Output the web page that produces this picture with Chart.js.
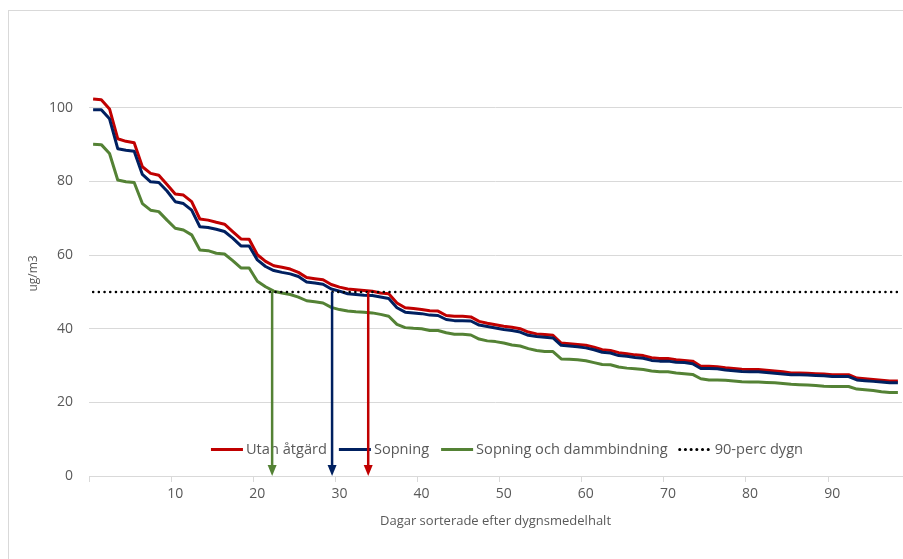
<!DOCTYPE html>
<html>
<head>
<meta charset="utf-8">
<script src="https://cdn.jsdelivr.net/npm/chart.js@4.4.1/dist/chart.umd.min.js"></script>
<style>
    html, body { margin: 0; padding: 0; background: #fff; overflow: hidden; }
    #wrap { position: relative; width: 903px; height: 559px; }
    #frame { position: absolute; left: 8px; top: 10px; width: 1000px; height: 1000px; border: 1px solid #d9d9d9; }
    canvas { position: absolute; left: 0; top: 0; }
</style>
</head>
<body>
<div id="wrap">
    <div id="frame"></div>
    <canvas id="durationChart" width="903" height="559"></canvas>
</div>
<script>
// days sorted by daily mean, 0..98
const days = Array.from({ length: 99 }, (_, i) => i);

const utanAtgard = [
    102.4, 102.2, 99.7, 91.6, 90.9, 90.5, 84.0, 82.2, 81.7, 79.2,
    76.6, 76.3, 74.5, 69.8, 69.5, 68.9, 68.4, 66.4, 64.4, 64.3,
    60.1, 58.3, 57.1, 56.7, 56.2, 55.3, 53.9, 53.6, 53.3, 52.0,
    51.3, 50.8, 50.6, 50.4, 50.2, 49.7, 49.5, 47.0, 45.7, 45.5,
    45.2, 44.9, 44.8, 43.6, 43.4, 43.4, 43.2, 42.0, 41.5, 41.1,
    40.7, 40.4, 40.0, 39.1, 38.6, 38.4, 38.2, 36.1, 35.9, 35.7,
    35.5, 35.0, 34.3, 34.1, 33.5, 33.2, 32.9, 32.7, 32.1, 31.9,
    31.9, 31.6, 31.4, 31.2, 29.8, 29.8, 29.7, 29.4, 29.2, 29.0,
    28.9, 28.9, 28.7, 28.5, 28.3, 28.0, 28.0, 27.9, 27.8, 27.7,
    27.5, 27.5, 27.5, 26.6, 26.4, 26.2, 26.0, 25.8, 25.8
];

const sopning = [
    99.5, 99.5, 97.0, 88.9, 88.5, 88.2, 81.9, 79.9, 79.7, 77.4,
    74.5, 74.0, 72.2, 67.7, 67.5, 67.0, 66.4, 64.6, 62.5, 62.5,
    58.7, 56.9, 55.8, 55.3, 54.9, 54.2, 52.7, 52.4, 52.1, 50.8,
    50.2, 49.5, 49.3, 49.1, 49.0, 48.6, 48.2, 45.7, 44.5, 44.3,
    44.1, 43.7, 43.6, 42.5, 42.2, 42.2, 42.1, 41.0, 40.6, 40.2,
    39.8, 39.5, 39.1, 38.2, 37.9, 37.7, 37.5, 35.5, 35.3, 35.1,
    34.8, 34.3, 33.6, 33.4, 32.7, 32.5, 32.2, 32.0, 31.4, 31.2,
    31.2, 30.9, 30.8, 30.5, 29.2, 29.2, 29.1, 28.8, 28.6, 28.4,
    28.3, 28.3, 28.1, 27.9, 27.7, 27.5, 27.5, 27.4, 27.3, 27.2,
    27.0, 27.0, 27.0, 26.1, 25.9, 25.7, 25.5, 25.3, 25.3
];

const sopningDamm = [
    90.1, 90.0, 87.6, 80.4, 79.9, 79.7, 74.0, 72.2, 71.8, 69.5,
    67.3, 66.8, 65.5, 61.4, 61.2, 60.5, 60.3, 58.5, 56.5, 56.5,
    52.9, 51.4, 50.2, 49.7, 49.3, 48.6, 47.6, 47.3, 47.0, 45.8,
    45.2, 44.8, 44.6, 44.5, 44.3, 43.9, 43.4, 41.2, 40.3, 40.1,
    40.0, 39.5, 39.5, 38.9, 38.5, 38.5, 38.3, 37.2, 36.7, 36.5,
    36.1, 35.6, 35.3, 34.6, 34.1, 33.8, 33.8, 31.8, 31.7, 31.6,
    31.3, 30.8, 30.3, 30.2, 29.6, 29.3, 29.1, 28.9, 28.5, 28.3,
    28.3, 28.0, 27.8, 27.6, 26.4, 26.1, 26.1, 26.0, 25.8, 25.6,
    25.5, 25.5, 25.4, 25.3, 25.1, 24.9, 24.8, 24.7, 24.6, 24.4,
    24.3, 24.3, 24.3, 23.6, 23.4, 23.2, 22.9, 22.7, 22.7
];

const perc90 = 50;
const perc90Line = days.map(() => perc90);

// where each series drops below the 90-percentile level (day position)
const arrowLabels = ['Utan åtgärd', 'Sopning', 'Sopning och dammbindning'];
const arrowDays = [33.5, 29.1, 21.8];

const yTicks = [0, 20, 40, 60, 80, 100];

const RED = '#c00000';
const NAVY = '#002060';
const GREEN = '#548235';
const TEXT = '#595959';
const FONT = "'Open Sans', sans-serif";

// legend drawn inside the plot area, just above the x axis
const insideLegend = {
    id: 'insideLegend',
    afterDatasetsDraw(chart) {
        const ctx = chart.ctx;
        const y = chart.scales.y.getPixelForValue(7.2);
        const items = chart.data.datasets.map(ds => ({
            text: ds.label, color: ds.borderColor, dash: ds.borderDash || []
        }));
        ctx.save();
        ctx.font = '14.6px ' + FONT;
        const sample = 32, gap = 3, spacing = 12;
        let total = 0;
        items.forEach(it => { it.w = ctx.measureText(it.text).width; total += sample + gap + it.w; });
        total += spacing * (items.length - 1);
        let x = 507 - total / 2;
        ctx.textBaseline = 'middle';
        items.forEach(it => {
            ctx.strokeStyle = it.color;
            ctx.lineWidth = 3;
            ctx.setLineDash(it.dash);
            ctx.lineCap = it.dash.length ? 'round' : 'butt';
            ctx.beginPath();
            ctx.moveTo(x, y);
            ctx.lineTo(x + sample, y);
            ctx.stroke();
            ctx.setLineDash([]);
            ctx.fillStyle = TEXT;
            ctx.fillText(it.text, x + sample + gap, y);
            x += sample + gap + it.w + spacing;
        });
        ctx.restore();
    }
};

// arrows from the 90-perc level down to the axis
const dropArrows = {
    id: 'dropArrows',
    afterDatasetsDraw(chart) {
        const ctx = chart.ctx;
        const xs = chart.scales.x, ys = chart.scales.y;
        const colors = [RED, NAVY, GREEN];
        ctx.save();
        arrowDays.forEach((d, i) => {
            const px = xs.getPixelForValue(d);
            const top = ys.getPixelForValue(perc90);
            const bottom = ys.getPixelForValue(0);
            ctx.strokeStyle = colors[i];
            ctx.fillStyle = colors[i];
            ctx.lineWidth = 2.5;
            ctx.beginPath();
            ctx.moveTo(px, top);
            ctx.lineTo(px, bottom - 9);
            ctx.stroke();
            ctx.beginPath();
            ctx.moveTo(px - 4.5, bottom - 11);
            ctx.lineTo(px + 4.5, bottom - 11);
            ctx.lineTo(px, bottom);
            ctx.closePath();
            ctx.fill();
        });
        ctx.restore();
    }
};

const ctx = document.getElementById('durationChart').getContext('2d');

const durationChart = new Chart(ctx, {
    type: 'line',
    data: {
        labels: days,
        datasets: [{
            label: 'Utan åtgärd',
            data: utanAtgard,
            borderColor: RED,
            order: 3
        }, {
            label: 'Sopning',
            data: sopning,
            borderColor: NAVY,
            order: 2
        }, {
            label: 'Sopning och dammbindning',
            data: sopningDamm,
            borderColor: GREEN,
            order: 1
        }, {
            label: '90-perc dygn',
            data: perc90Line,
            borderColor: '#000000',
            borderWidth: 2.5,
            borderDash: [0.1, 5.6],
            borderCapStyle: 'round',
            order: 0
        }]
    },
    options: {
        responsive: false,
        animation: false,
        devicePixelRatio: 1,
        layout: {
            padding: { left: 22, right: 1, top: 71, bottom: 0 }
        },
        elements: {
            point: { radius: 0 },
            line: { borderWidth: 3, tension: 0, borderJoinStyle: 'round' }
        },
        plugins: {
            legend: { display: false },
            tooltip: { enabled: false }
        },
        scales: {
            x: {
                type: 'category',
                offset: true,
                afterFit: scale => { scale.height = 83; },
                border: { display: true, color: '#d9d9d9', width: 1 },
                grid: {
                    offset: true,
                    drawOnChartArea: false,
                    tickLength: 6,
                    color: c => (c.index % 10 === 0 ? '#d9d9d9' : 'rgba(0,0,0,0)')
                },
                ticks: {
                    autoSkip: false,
                    maxRotation: 0,
                    padding: 4,
                    color: TEXT,
                    font: { family: FONT, size: 14 },
                    callback: (v, i) => (i > 0 && i % 10 === 0 ? String(days[i]) : '')
                },
                title: {
                    display: true,
                    text: 'Dagar sorterade efter dygnsmedelhalt',
                    color: TEXT,
                    font: { family: FONT, size: 13 },
                    padding: { top: 4, bottom: 30 }
                }
            },
            y: {
                min: 0,
                max: 110,
                afterFit: scale => { scale.width = 67; },
                afterBuildTicks: scale => {
                    scale.ticks = yTicks.map(v => ({ value: v }));
                },
                border: { display: false },
                grid: {
                    color: c => (c.tick && c.tick.value === 0 ? 'rgba(0,0,0,0)' : '#d9d9d9'),
                    drawTicks: false
                },
                ticks: {
                    padding: 16,
                    color: TEXT,
                    font: { family: FONT, size: 14 }
                },
                title: {
                    display: true,
                    text: 'ug/m3',
                    color: TEXT,
                    font: { family: FONT, size: 12 },
                    padding: { top: 4, bottom: 0 }
                }
            }
        }
    },
    plugins: [insideLegend, dropArrows]
});
</script>
</body>
</html>
